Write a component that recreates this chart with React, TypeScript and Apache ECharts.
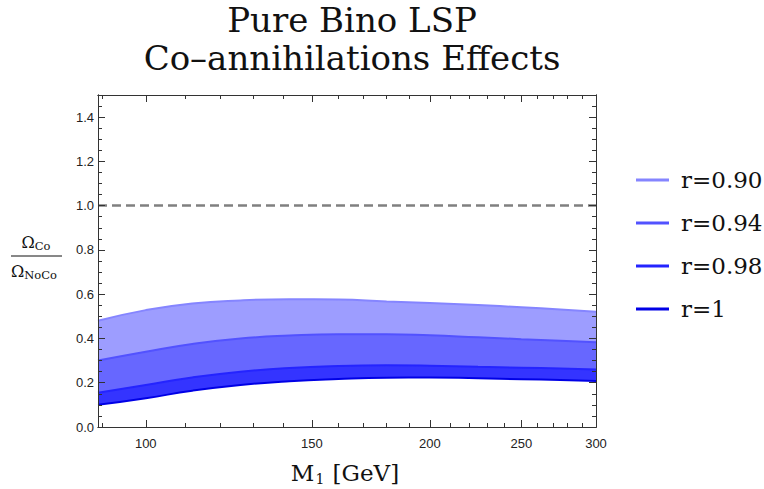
import React, { useEffect, useRef } from "react";
import * as echarts from "echarts";

const masses = [89, 100, 112, 126, 142, 160, 180, 200, 225, 250, 275, 300];
const r090 = [0.48, 0.528, 0.558, 0.572, 0.577, 0.576, 0.567, 0.56, 0.551, 0.541, 0.531, 0.521];
const r094 = [0.3, 0.34, 0.375, 0.4, 0.413, 0.419, 0.419, 0.414, 0.405, 0.397, 0.39, 0.383];
const r098 = [0.155, 0.19, 0.224, 0.25, 0.267, 0.276, 0.279, 0.277, 0.272, 0.268, 0.264, 0.26];
const r100 = [0.1, 0.13, 0.164, 0.19, 0.207, 0.217, 0.223, 0.224, 0.22, 0.216, 0.212, 0.208];
const seriesNames = ["r=0.90", "r=0.94", "r=0.98", "r=1"];
const xMajor = [100, 150, 200, 250, 300];
const xMinor = [90, 110, 120, 130, 140, 160, 170, 180, 190, 210, 220, 230, 240, 260, 270, 280, 290];
const yMajor = [0, 0.2, 0.4, 0.6, 0.8, 1.0, 1.2, 1.4];
const yMinor = [0.05, 0.1, 0.15, 0.25, 0.3, 0.35, 0.45, 0.5, 0.55, 0.65, 0.7, 0.75, 0.85, 0.9, 0.95, 1.05, 1.1, 1.15, 1.25, 1.3, 1.35, 1.45];
const refLine = 1.0;

const lineColors = ["#8585ff", "#5252ff", "#2424ff", "#0000e6"];
const fillColors = ["#9d9dff", "#6767ff", "#3434ff", "#ffffff"];

export default function App() {
  const ref = useRef<HTMLDivElement>(null);
  useEffect(() => {
    if (!ref.current) return;
    const chart = echarts.init(ref.current, null, { renderer: "svg" });
    const all = [r090, r094, r098, r100];
    const serif = "DejaVu Serif";
    const sans = "Liberation Sans";
    const frame = { show: true, onZero: false, lineStyle: { color: "#333", width: 1 } };
    const mkX = (pos: string, major: boolean, labels: boolean) => ({
      type: "log",
      logBase: 10,
      min: 89,
      max: 300,
      position: pos,
      z: 10,
      axisLine: frame,
      splitLine: { show: false },
      axisTick: {
        show: true,
        inside: true,
        length: major ? 7 : 4,
        lineStyle: { color: "#333" },
        customValues: major ? xMajor : xMinor,
      },
      axisLabel: {
        show: labels,
        customValues: xMajor,
        fontFamily: sans,
        fontSize: 13,
        color: "#222",
        margin: 10,
      },
    });
    const mkY = (pos: string, major: boolean, labels: boolean) => ({
      type: "value",
      min: 0,
      max: 1.5,
      position: pos,
      z: 10,
      axisLine: frame,
      splitLine: { show: false },
      axisTick: {
        show: true,
        inside: true,
        length: major ? 7 : 4,
        lineStyle: { color: "#333" },
        customValues: major ? yMajor : yMinor,
      },
      axisLabel: {
        show: labels,
        customValues: yMajor,
        formatter: (v: number) => v.toFixed(1),
        fontFamily: sans,
        fontSize: 13,
        color: "#222",
        margin: 4,
      },
    });
    const fills: any[] = all.map((vals, i) => ({
      name: "fill" + i,
      type: "line",
      data: masses.map((m, j) => [m, vals[j]]),
      smooth: true,
      symbol: "none",
      z: 2 + i,
      lineStyle: { width: 0 },
      areaStyle: { color: fillColors[i], opacity: 1, origin: "start" },
    }));
    const lines: any[] = all.map((vals, i) => ({
      name: seriesNames[i],
      type: "line",
      data: masses.map((m, j) => [m, vals[j]]),
      smooth: true,
      symbol: "none",
      z: 7,
      lineStyle: { color: lineColors[i], width: 2 },
      itemStyle: { color: lineColors[i] },
    }));
    const series: any[] = [...fills, ...lines];
    series.push({
      name: "ref",
      type: "line",
      data: [],
      markLine: {
        silent: true,
        symbol: "none",
        label: { show: false },
        lineStyle: { color: "#808080", type: [9, 5], width: 2.5 },
        data: [{ yAxis: refLine }],
      },
    });
    const ink = "#111";
    chart.setOption({
      animation: false,
      title: {
        text: "Pure Bino LSP\nCo\u2013annihilations Effects",
        left: 347,
        top: -4,
        textAlign: "center",
        textStyle: {
          fontFamily: serif,
          fontSize: 34,
          fontWeight: "normal",
          lineHeight: 38,
          color: ink,
        },
      },
      grid: { left: 98, right: 168, top: 95, bottom: 62, containLabel: false },
      xAxis: [mkX("bottom", true, true), mkX("bottom", false, false), mkX("top", true, false), mkX("top", false, false)],
      yAxis: [mkY("left", true, true), mkY("left", false, false), mkY("right", true, false), mkY("right", false, false)],
      legend: {
        data: seriesNames,
        orient: "vertical",
        left: 631,
        top: 162,
        itemWidth: 33,
        itemHeight: 3,
        itemGap: 17,
        icon: "rect",
        textStyle: { fontFamily: serif, fontSize: 23, lineHeight: 26, color: ink, padding: [0, 0, 0, 7] },
      },
      graphic: [
        {
          type: "text",
          x: 345,
          y: 473,
          style: {
            text: "{a|M}{s|1}{a| [GeV]}",
            align: "center",
            verticalAlign: "middle",
            rich: {
              a: { fontFamily: serif, fontSize: 23, fill: ink },
              s: { fontFamily: serif, fontSize: 14, fill: ink, padding: [12, 1, 0, 1] },
            },
          },
        },
        {
          type: "text",
          x: 36,
          y: 232,
          style: {
            text: "{a|\u03a9}{s|Co}",
            align: "center",
            rich: {
              a: { fontFamily: serif, fontSize: 16, fill: ink },
              s: { fontFamily: serif, fontSize: 11.5, fill: ink, padding: [8, 0, 0, 0] },
            },
          },
        },
        {
          type: "line",
          shape: { x1: 11, y1: 256, x2: 62, y2: 256 },
          style: { stroke: ink, lineWidth: 1 },
        },
        {
          type: "text",
          x: 34,
          y: 261,
          style: {
            text: "{a|\u03a9}{s|NoCo}",
            align: "center",
            rich: {
              a: { fontFamily: serif, fontSize: 16, fill: ink },
              s: { fontFamily: serif, fontSize: 11.5, fill: ink, padding: [8, 0, 0, 0] },
            },
          },
        },
      ],
      series,
    });
    return () => chart.dispose();
  }, []);
  return <div ref={ref} style={{ width: 764, height: 489, position: "absolute", left: 0, top: 0 }} />;
}
